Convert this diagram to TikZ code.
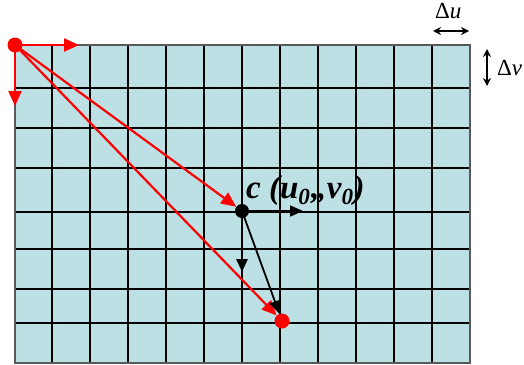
\documentclass[tikz,border=0pt]{standalone}
\usepackage{fontspec}
\setmainfont{Liberation Serif}
\usetikzlibrary{arrows.meta, positioning}
\definecolor{cellblue}{RGB}{188,224,228}

\begin{document}
\begin{tikzpicture}[x=1pt, y=-1pt,
      grid/.style={draw=black, line width=2.2pt},
      reddot/.style={circle, fill=red, inner sep=0pt, minimum size=15pt},
      blackdot/.style={circle, fill=black, inner sep=0pt, minimum size=14pt},
      rarr/.style={-{Triangle[length=15pt, width=13pt]}, red, line width=2.2pt},
      barr/.style={-{Triangle[length=13pt, width=11pt]}, black, line width=1.8pt},
      darr/.style={{Stealth[length=8pt, width=8pt]}-{Stealth[length=8pt, width=8pt]}, line width=1.6pt}
    ]
    \useasboundingbox (0,0) rectangle (524,364);

    % image grid
    \fill[cellblue] (15,45) rectangle (470,363);
    \foreach \x in {52,90,128,166,204,242,280,318,356,394,432}
      \draw[grid] (\x,45) -- (\x,363);
    \foreach \y in {88,128,168,212,249,289,323}
      \draw[grid] (15,\y) -- (470,\y);
    \draw[draw=black!65, line width=2.2pt] (15,45) rectangle (470,363);

    % points
    \node[reddot]   (o)  at (15,45)   {};
    \node[blackdot] (c)  at (242,211) {};
    \node[reddot]   (p)  at (282,321) {};
    \coordinate (ou) at (79,45);
    \coordinate (ov) at (15,106);
    \coordinate (cu) at (303,211);
    \coordinate (cv) at (242,272);

    % red vectors from the origin
    \draw[rarr] (o.center) -- (ou);
    \draw[rarr] (o.center) -- (ov);
    \draw[rarr] (o.center) -- (c);
    \draw[rarr] (o.center) -- (p);

    % local frame at c
    \draw[barr] (c.center) -- (cu);
    \draw[barr, line width=2.8pt] (c.center) -- (cv);
    \draw[barr] (c.center) -- (p);

    \node[anchor=base west, inner sep=0pt, font={\fontsize{33}{35}\selectfont\bfseries\itshape}]
      (clab) at (246,198) {c (u\textsubscript{0},,v\textsubscript{0})};

    % pixel steps
    \coordinate (dul) at (433,31);
    \coordinate (dur) at (469,31);
    \draw[darr] (dul) -- (dur);
    \node[anchor=base west, inner sep=0pt, font={\fontsize{23}{25}\selectfont}] (du) at (435,18) {Δ\textit{u}};
    \coordinate (dvt) at (487,49);
    \coordinate (dvb) at (487,86);
    \draw[darr] (dvt) -- (dvb);
    \node[anchor=base west, inner sep=0pt, font={\fontsize{23}{25}\selectfont}] (dv) at (497,75) {Δ\textit{v}};
  \end{tikzpicture}
\end{document}
